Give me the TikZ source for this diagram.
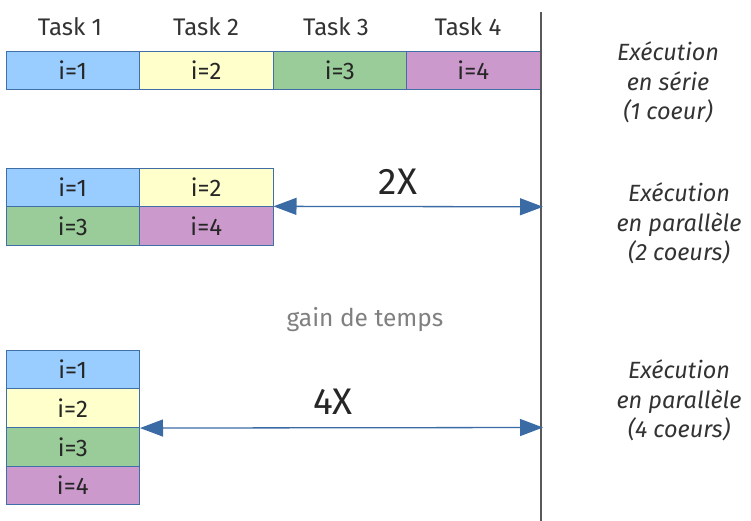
\documentclass[tikz,border=0pt]{standalone}
\usepackage{fontspec}
\setmainfont{Fira Sans}
\usetikzlibrary{arrows.meta}
\definecolor{cblue}{HTML}{99CCFF}
\definecolor{cyellow}{HTML}{FFFFCC}
\definecolor{cgreen}{HTML}{99CC99}
\definecolor{cpurple}{HTML}{CC99CC}
\definecolor{edge}{HTML}{3F6FA6}
\definecolor{arrowblue}{HTML}{3B6BA5}
\begin{document}
\begin{tikzpicture}[x=1pt,y=-1pt,
  cell/.style={draw=edge, line width=1pt, minimum width=133.5pt, minimum height=38.7pt,
    inner sep=0pt, font=\fontsize{24}{28}\selectfont, text=black!85},
  tasklabel/.style={font=\fontsize{24}{28}\selectfont, text=black!80},
  modelabel/.style={align=center, font=\itshape\fontsize{23.5}{29.5}\selectfont, text=black!80},
  gain/.style={font=\fontsize{37}{40}\selectfont, text=black!85},
  arr/.style={draw=arrowblue, line width=1.3pt, {Triangle[length=23pt,width=17pt]}-{Triangle[length=23pt,width=17pt]}}]
\useasboundingbox (0,0) rectangle (751,521);

% serial execution: one core, four tasks in a row
\node[cell, fill=cblue]   (s1) at (72.75,70.5)  {i=1};
\node[cell, fill=cyellow] (s2) at (206.25,70.5) {i=2};
\node[cell, fill=cgreen]  (s3) at (339.75,70.5) {i=3};
\node[cell, fill=cpurple] (s4) at (473.25,70.5) {i=4};

\node[tasklabel] (t1) at (70,27)  {Task 1};
\node[tasklabel] (t2) at (206,27) {Task 2};
\node[tasklabel] (t3) at (336,27) {Task 3};
\node[tasklabel] (t4) at (468,27) {Task 4};

% two cores
\node[cell, fill=cblue]   (p1) at (72.75,187.5)  {i=1};
\node[cell, fill=cyellow] (p2) at (206.25,187.5) {i=2};
\node[cell, fill=cgreen]  (p3) at (72.75,226.2)  {i=3};
\node[cell, fill=cpurple] (p4) at (206.25,226.2) {i=4};

% four cores
\node[cell, fill=cblue]   (q1) at (72.75,369.5) {i=1};
\node[cell, fill=cyellow] (q2) at (72.75,408.2) {i=2};
\node[cell, fill=cgreen]  (q3) at (72.75,446.9) {i=3};
\node[cell, fill=cpurple] (q4) at (72.75,485.6) {i=4};

% end-of-serial-run marker
\coordinate (vtop) at (541,12);
\coordinate (vbot) at (541,521);
\draw[black!65, line width=1.5pt] (vtop) -- (vbot);

% speed-up arrows
\coordinate (v2) at (543,206.8);
\coordinate (v4) at (543,427.5);
\draw[arr] (p4.north east) -- (v2);
\draw[arr] (q2.south east) -- (v4);
\node[gain] (x2) at (398,182) {2X};
\node[gain] (x4) at (333,402) {4X};

\node[font=\fontsize{24.5}{28}\selectfont, text=black!50] (gt) at (365,320) {gain de temps};

% mode descriptions
\node[modelabel] (m1) at (668,82.5)  {Exécution\\en série\\(1 coeur)};
\node[modelabel] (m2) at (679,223.5) {Exécution\\en parallèle\\(2 coeurs)};
\node[modelabel] (m3) at (679,400.5) {Exécution\\en parallèle\\(4 coeurs)};
\end{tikzpicture}
\end{document}
